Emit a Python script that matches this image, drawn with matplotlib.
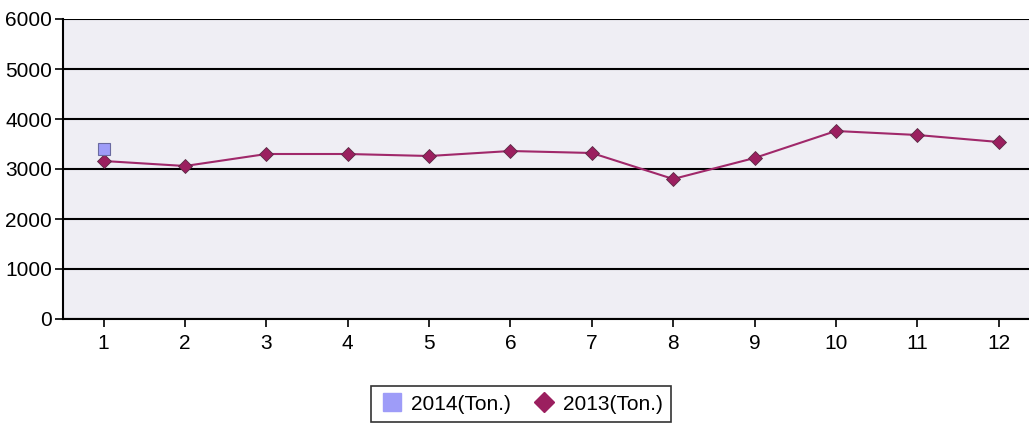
import matplotlib
matplotlib.use("Agg")
import matplotlib.pyplot as plt
from matplotlib.lines import Line2D

plt.rcParams['font.family'] = ['Liberation Sans', 'DejaVu Sans']

months = list(range(1, 13))
tons_2013 = [3160, 3060, 3300, 3300, 3260, 3360, 3320, 2800, 3220, 3760, 3680, 3540]
months_2014 = [1]
tons_2014 = [3400]

fig = plt.figure(figsize=(10.29, 4.25), dpi=100)
ax = fig.add_axes([63 / 1029, 1 - 319 / 425, (1029 - 63) / 1029 + 0.01, 300 / 425])
ax.set_facecolor('#efeef4')

ax.plot(months, tons_2013, color='#a0286a', lw=1.5, marker='D', ms=7,
        mfc='#9b1f5f', mec='#5a2a45', mew=0.6, zorder=3)
ax.plot(months_2014, tons_2014, ls='none', marker='s', ms=9,
        mfc='#9e9cf8', mec='#6a6aa0', mew=0.8, zorder=4)

ax.set_xlim(0.5, 12.5)
ax.set_ylim(0, 6000)
ax.set_yticks(range(0, 6001, 1000))
ax.set_xticks(months)
ax.yaxis.grid(True, color='black', lw=1.5)
ax.set_axisbelow(True)
for s in ['top', 'right']:
    ax.spines[s].set_visible(False)
ax.spines['left'].set_linewidth(1.5)
ax.spines['bottom'].set_linewidth(1.5)
ax.tick_params(axis='both', labelsize=15, length=6, width=1.2, direction='out')
ax.tick_params(axis='x', pad=5)
ax.tick_params(axis='y', pad=2)

handles = [
    Line2D([], [], ls='none', marker='s', ms=13, mfc='#9e9cf8', mec='#9e9cf8'),
    Line2D([], [], ls='none', marker='D', ms=10, mfc='#9b1f5f', mec='#9b1f5f'),
]
leg = fig.legend(handles, ['2014(Ton.)', '2013(Ton.)'], loc='center',
                 bbox_to_anchor=(521 / 1029, 1 - 404 / 425), ncol=2,
                 fontsize=15, frameon=True, fancybox=False, edgecolor='black',
                 handletextpad=0.3, columnspacing=1.0, borderpad=0.4, handlelength=1.2)
leg.get_frame().set_linewidth(1.2)

fig.savefig('out.png', dpi=100)
